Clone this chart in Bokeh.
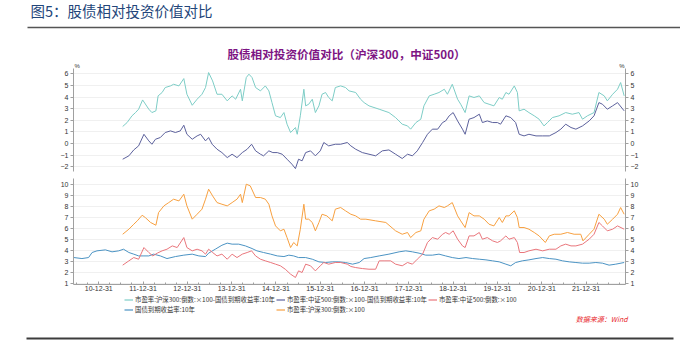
import math
from bokeh.plotting import figure
from bokeh.models import Range1d, LinearAxis, FixedTicker, Legend, LegendItem
from bokeh.layouts import column
from bokeh.embed import file_html
from bokeh.resources import INLINE
from bokeh.core.properties import value

CJK = "Noto Sans CJK SC"
NUM = "Liberation Sans"

# ---------------- data (time in decimal years, values in %) ----------------
hs300_spread = [(2011.54,1.47),(2011.64,1.81),(2011.75,2.39),(2011.83,2.67),(2011.90,2.96),(2011.99,3.76),(2012.13,2.96),(2012.20,2.67),(2012.29,2.82),(2012.34,4.11),(2012.43,4.40),(2012.50,4.83),(2012.62,4.97),(2012.69,5.11),(2012.81,4.97),(2012.92,5.60),(2012.99,4.25),(2013.11,3.30),(2013.22,3.82),(2013.33,4.25),(2013.41,4.83),(2013.48,6.12),(2013.57,5.40),(2013.67,4.25),(2013.78,4.25),(2013.90,3.68),(2014.01,4.11),(2014.09,3.82),(2014.20,4.68),(2014.24,3.68),(2014.33,5.69),(2014.39,5.98),(2014.46,5.69),(2014.54,4.83),(2014.65,4.54),(2014.76,4.97),(2014.84,4.54),(2014.91,3.53),(2014.99,2.39),(2015.10,2.24),(2015.18,2.67),(2015.25,1.67),(2015.33,0.95),(2015.44,1.38),(2015.48,0.80),(2015.55,2.39),(2015.63,4.68),(2015.67,3.25),(2015.74,3.39),(2015.82,3.82),(2015.89,2.67),(2015.97,3.25),(2016.04,4.25),(2016.12,4.40),(2016.19,3.97),(2016.27,3.68),(2016.34,4.83),(2016.46,4.97),(2016.57,4.83),(2016.65,4.54),(2016.80,4.40),(2016.91,3.82),(2016.99,3.53),(2017.10,3.25),(2017.33,2.96),(2017.55,2.67),(2017.70,2.24),(2017.85,1.67),(2017.97,1.52),(2018.04,1.24),(2018.16,1.81),(2018.27,2.10),(2018.34,3.25),(2018.46,4.11),(2018.57,4.25),(2018.68,4.40),(2018.80,4.68),(2018.87,4.25),(2018.98,5.11),(2019.10,3.82),(2019.17,3.39),(2019.27,2.67),(2019.36,4.11),(2019.47,3.97),(2019.59,4.11),(2019.70,3.53),(2019.81,3.39),(2019.92,3.25),(2020.04,3.97),(2020.11,3.82),(2020.19,4.40),(2020.26,4.25),(2020.38,4.97),(2020.45,4.40),(2020.49,2.82),(2020.60,2.96),(2020.71,2.67),(2020.83,2.39),(2020.94,2.10),(2021.05,1.52),(2021.13,1.81),(2021.24,2.24),(2021.39,2.39),(2021.54,2.67),(2021.69,2.53),(2021.84,2.67),(2021.92,2.10),(2022.03,2.39),(2022.18,2.67),(2022.29,4.40),(2022.41,4.11),(2022.48,3.68),(2022.60,4.25),(2022.71,4.68),(2022.78,5.26),(2022.86,4.11)]

zz500_spread = [(2011.54,-1.35),(2011.68,-1.06),(2011.79,-0.55),(2011.90,-0.20),(2012.02,0.80),(2012.13,0.23),(2012.20,-0.06),(2012.28,0.37),(2012.39,0.52),(2012.50,0.95),(2012.62,1.09),(2012.73,0.95),(2012.84,1.09),(2012.92,1.58),(2012.99,0.80),(2013.11,0.37),(2013.22,0.66),(2013.30,0.80),(2013.41,0.23),(2013.48,0.52),(2013.56,-0.06),(2013.67,-0.49),(2013.78,-0.78),(2013.90,-1.21),(2014.01,-0.92),(2014.12,-1.21),(2014.24,-0.78),(2014.35,-0.49),(2014.45,-0.06),(2014.54,-0.63),(2014.65,-0.92),(2014.72,-1.06),(2014.84,-0.63),(2014.93,-0.78),(2015.03,-0.78),(2015.14,-0.92),(2015.25,-1.35),(2015.36,-1.78),(2015.44,-2.16),(2015.51,-1.35),(2015.59,-1.49),(2015.67,-0.78),(2015.78,-0.63),(2015.89,-1.06),(2016.00,-0.63),(2016.08,0.09),(2016.19,-0.20),(2016.34,-0.06),(2016.46,-0.06),(2016.61,0.09),(2016.69,-0.20),(2016.80,-0.49),(2016.95,-0.78),(2017.10,-0.92),(2017.25,-1.06),(2017.40,-0.63),(2017.55,-0.55),(2017.70,-0.92),(2017.85,-1.29),(2017.97,-0.92),(2018.08,-1.06),(2018.19,-0.63),(2018.31,0.09),(2018.42,0.80),(2018.53,1.24),(2018.65,1.24),(2018.76,1.81),(2018.83,1.95),(2018.91,2.39),(2019.00,2.67),(2019.10,1.95),(2019.21,1.24),(2019.27,0.80),(2019.36,2.10),(2019.47,2.24),(2019.59,2.53),(2019.66,1.81),(2019.77,1.95),(2019.89,1.81),(2020.00,1.81),(2020.07,1.67),(2020.19,2.39),(2020.30,2.24),(2020.41,1.81),(2020.49,0.80),(2020.60,0.66),(2020.71,0.80),(2020.87,0.66),(2021.02,0.66),(2021.17,0.66),(2021.32,0.95),(2021.43,1.24),(2021.54,1.67),(2021.66,1.38),(2021.77,1.24),(2021.92,1.52),(2022.07,1.95),(2022.18,2.39),(2022.29,3.53),(2022.37,3.39),(2022.48,2.96),(2022.60,3.25),(2022.71,3.53),(2022.86,2.82)]

hs300_ey = [(2011.54,5.45),(2011.68,5.91),(2011.79,6.36),(2011.87,6.67),(2011.98,7.18),(2012.05,6.97),(2012.17,6.52),(2012.29,6.27),(2012.35,7.42),(2012.47,8.03),(2012.58,8.33),(2012.69,8.64),(2012.81,8.48),(2012.92,9.09),(2012.99,8.03),(2013.11,6.82),(2013.22,7.27),(2013.33,7.73),(2013.41,8.64),(2013.48,9.55),(2013.57,8.94),(2013.67,8.33),(2013.78,8.18),(2013.90,8.03),(2014.01,8.33),(2014.12,8.64),(2014.20,9.09),(2014.24,8.33),(2014.33,10.00),(2014.42,9.85),(2014.54,8.79),(2014.65,8.79),(2014.76,8.64),(2014.84,8.18),(2014.91,7.12),(2014.99,6.21),(2015.10,5.76),(2015.18,5.91),(2015.25,5.15),(2015.33,4.24),(2015.40,4.70),(2015.48,4.39),(2015.55,5.91),(2015.63,8.18),(2015.67,6.82),(2015.74,6.82),(2015.82,6.52),(2015.89,5.76),(2015.97,6.52),(2016.04,7.27),(2016.15,7.12),(2016.27,6.67),(2016.34,7.73),(2016.46,7.88),(2016.57,7.58),(2016.69,7.27),(2016.80,7.12),(2016.91,6.82),(2017.03,6.82),(2017.25,6.67),(2017.48,6.52),(2017.70,5.76),(2017.85,5.45),(2017.97,5.61),(2018.04,5.15),(2018.16,5.61),(2018.27,5.76),(2018.34,6.82),(2018.46,7.58),(2018.57,7.73),(2018.68,8.03),(2018.80,7.88),(2018.87,8.03),(2018.98,8.33),(2019.10,7.12),(2019.17,6.67),(2019.27,6.06),(2019.36,7.42),(2019.47,7.12),(2019.59,7.12),(2019.70,6.82),(2019.81,6.36),(2019.92,6.21),(2020.04,6.97),(2020.11,6.52),(2020.19,7.12),(2020.26,7.12),(2020.38,7.58),(2020.45,6.97),(2020.49,6.06),(2020.60,6.06),(2020.71,5.91),(2020.83,5.61),(2020.94,5.30),(2021.08,4.70),(2021.17,5.30),(2021.28,5.45),(2021.43,5.45),(2021.58,5.61),(2021.73,5.45),(2021.88,5.45),(2021.93,4.85),(2022.07,5.45),(2022.18,5.91),(2022.29,7.27),(2022.41,6.82),(2022.48,6.36),(2022.60,6.82),(2022.71,7.27),(2022.78,7.88),(2022.86,7.27)]

zz500_ey = [(2011.54,2.64),(2011.68,3.03),(2011.79,3.33),(2011.90,3.18),(2012.02,4.24),(2012.13,3.79),(2012.22,3.48),(2012.32,3.73),(2012.43,3.94),(2012.54,4.09),(2012.66,4.39),(2012.77,4.24),(2012.92,5.15),(2012.99,4.24),(2013.11,3.94),(2013.22,4.09),(2013.33,3.94),(2013.41,3.64),(2013.48,4.09),(2013.57,3.79),(2013.67,3.48),(2013.78,3.64),(2013.90,3.18),(2014.01,3.64),(2014.12,3.33),(2014.24,3.64),(2014.35,3.79),(2014.45,3.94),(2014.54,3.48),(2014.65,3.18),(2014.76,3.03),(2014.88,2.88),(2014.99,2.73),(2015.10,2.58),(2015.21,2.27),(2015.33,1.82),(2015.44,1.52),(2015.51,2.12),(2015.59,1.97),(2015.67,2.73),(2015.78,2.58),(2015.89,2.12),(2016.00,2.58),(2016.08,2.88),(2016.19,2.73),(2016.34,2.88),(2016.46,2.88),(2016.61,2.73),(2016.69,2.52),(2016.80,2.42),(2016.95,2.33),(2017.10,2.27),(2017.25,2.27),(2017.33,3.03),(2017.44,3.03),(2017.59,3.03),(2017.70,2.73),(2017.85,2.58),(2017.97,2.88),(2018.08,2.73),(2018.19,3.18),(2018.31,3.64),(2018.42,4.70),(2018.53,5.15),(2018.65,5.00),(2018.76,5.45),(2018.83,5.61),(2018.91,5.45),(2019.00,5.76),(2019.10,5.00),(2019.21,4.39),(2019.27,4.24),(2019.36,5.30),(2019.47,5.30),(2019.59,5.61),(2019.66,5.00),(2019.77,5.15),(2019.89,4.85),(2020.00,4.70),(2020.07,4.85),(2020.19,5.30),(2020.26,5.00),(2020.38,5.15),(2020.45,4.70),(2020.50,3.79),(2020.60,3.79),(2020.71,3.94),(2020.87,4.09),(2021.02,3.94),(2021.17,4.09),(2021.32,4.09),(2021.43,4.39),(2021.54,4.55),(2021.66,4.39),(2021.77,4.39),(2021.92,4.55),(2022.07,5.00),(2022.18,5.45),(2022.29,6.52),(2022.37,6.21),(2022.48,5.76),(2022.60,5.91),(2022.71,6.21),(2022.86,5.91)]

bond_10y = [(2010.44,3.33),(2010.62,3.24),(2010.77,3.33),(2010.85,3.79),(2010.96,3.94),(2011.15,4.03),(2011.30,3.85),(2011.45,3.94),(2011.56,4.09),(2011.68,3.79),(2011.79,3.64),(2011.90,3.48),(2012.02,3.48),(2012.13,3.48),(2012.24,3.64),(2012.39,3.48),(2012.54,3.24),(2012.73,3.42),(2012.92,3.55),(2013.11,3.64),(2013.26,3.48),(2013.41,3.42),(2013.48,3.73),(2013.63,4.09),(2013.78,4.45),(2013.90,4.64),(2014.01,4.55),(2014.16,4.55),(2014.31,4.39),(2014.46,4.15),(2014.57,3.94),(2014.72,3.79),(2014.88,3.64),(2015.03,3.48),(2015.18,3.42),(2015.29,3.55),(2015.40,3.48),(2015.51,3.33),(2015.67,3.33),(2015.82,3.18),(2015.97,2.94),(2016.12,2.88),(2016.27,2.94),(2016.42,2.94),(2016.57,2.88),(2016.73,2.73),(2016.88,2.88),(2016.99,3.24),(2017.14,3.33),(2017.33,3.48),(2017.55,3.64),(2017.78,3.85),(2017.93,3.94),(2018.08,3.85),(2018.23,3.73),(2018.38,3.55),(2018.53,3.55),(2018.68,3.64),(2018.83,3.48),(2018.98,3.33),(2019.13,3.24),(2019.29,3.33),(2019.44,3.24),(2019.59,3.18),(2019.74,3.12),(2019.89,3.03),(2020.04,2.94),(2020.19,2.73),(2020.30,2.58),(2020.41,2.88),(2020.56,3.03),(2020.71,3.12),(2020.87,3.24),(2021.02,3.33),(2021.17,3.24),(2021.32,3.18),(2021.47,3.03),(2021.62,2.94),(2021.77,2.88),(2021.92,2.82),(2022.07,2.82),(2022.22,2.88),(2022.37,2.82),(2022.52,2.64),(2022.67,2.73),(2022.86,2.88)]

year_ticks = [2011, 2012, 2013, 2014, 2015, 2016, 2017, 2018, 2019, 2020, 2021, 2022]
year_labels = ["10-12-31", "11-12-31", "12-12-31", "13-12-31", "14-12-31", "15-12-31",
               "16-12-31", "17-12-31", "18-12-31", "19-12-31", "20-12-31", "21-12-31"]
top_ticks = [-2, -1, 0, 1, 2, 3, 4, 5, 6]
bottom_ticks = [1, 2, 3, 4, 5, 6, 7, 8, 9, 10]

legend_labels = [
    "市盈率:沪深300:倒数:×100-国债到期收益率:10年",
    "市盈率:中证500:倒数:×100-国债到期收益率:10年",
    "市盈率:中证500:倒数:×100",
    "国债到期收益率:10年",
    "市盈率:沪深300:倒数:×100",
]

header_text = "图5：股债相对投资价值对比"
chart_title = "股债相对投资价值对比（沪深300，中证500）"
source_text = "数据来源：Wind"
footer_text = "数据来源：Wind，信达证券"

C_TEAL = "#7dcdc6"
C_PURPLE = "#5c619c"
C_RED = "#e9767c"
C_BLUE = "#4b93c3"
C_ORANGE = "#f7a040"
SERIES_COLORS = [C_TEAL, C_PURPLE, C_RED, C_BLUE, C_ORANGE]


def unzip(pairs):
    return [a for a, _ in pairs], [b for _, b in pairs]


X_RANGE = Range1d(2010.43, 2022.89)


def blank(h, y0, y1):
    f = figure(width=680, height=h, x_range=Range1d(0, 680), y_range=Range1d(y1, y0),
               output_backend="svg", toolbar_location=None, min_border=0,
               x_axis_location=None, y_axis_location=None)
    f.grid.visible = False
    f.outline_line_color = None
    f.frame_align = False
    return f


def style_y(ax, ticks):
    ax.ticker = FixedTicker(ticks=ticks)
    ax.major_label_text_font = NUM
    ax.major_label_text_font_size = "7px"
    ax.major_label_text_color = "#333333"
    ax.axis_line_color = "#a0a0a0"
    ax.major_tick_line_color = "#a0a0a0"
    ax.major_tick_out = 3
    ax.major_tick_in = 0
    ax.minor_tick_line_color = None
    ax.major_label_standoff = 2


# ---------------- header ----------------
header = blank(68, 0, 68)
header.text(x=[30], y=[10], text=[header_text], text_font=value(CJK), text_font_size="14.5px",
            text_color="#23467a", text_baseline="middle", text_align="left")
header.segment(x0=[27], y0=[27], x1=[680], y1=[27], line_color="#555555", line_width=1.5)
header.text(x=[346], y=[53], text=[chart_title], text_font=value(CJK), text_font_size="11.6px",
            text_font_style="bold", text_color="#7d1483", text_baseline="middle", text_align="center")
header.text(x=[74, 624], y=[65, 65], text=["%", "%"], text_font=value(NUM), text_font_size="6px",
            text_color="#333333", text_baseline="middle", text_align=["left", "right"])

# ---------------- top panel ----------------
p_top = figure(width=680, height=110, x_range=X_RANGE, y_range=Range1d(-2.41, 6.47),
               output_backend="svg", toolbar_location=None, x_axis_location=None,
               min_border_left=73, min_border_right=55, min_border_top=0, min_border_bottom=7)
p_top.outline_line_color = None
p_top.xgrid.grid_line_color = None
p_top.ygrid.grid_line_color = "#f0f0f0"
p_top.add_layout(LinearAxis(), "right")
for ax in p_top.yaxis:
    style_y(ax, top_ticks)

tx, tv = unzip(hs300_spread)
p_top.line(tx, tv, line_color=C_TEAL, line_width=1)
px, pv = unzip(zz500_spread)
p_top.line(px, pv, line_color=C_PURPLE, line_width=1)

# ---------------- bottom panel ----------------
p_bot = figure(width=680, height=115, x_range=X_RANGE, y_range=Range1d(0.88, 10.52),
               output_backend="svg", toolbar_location=None,
               min_border_left=73, min_border_right=55, min_border_top=0, min_border_bottom=9)
p_bot.outline_line_color = None
p_bot.xgrid.grid_line_color = None
p_bot.ygrid.grid_line_color = "#f0f0f0"
p_bot.add_layout(LinearAxis(), "right")
for ax in p_bot.yaxis:
    style_y(ax, bottom_ticks)

xa = p_bot.xaxis[0]
xa.ticker = FixedTicker(ticks=year_ticks,
                        minor_ticks=[y + q / 4 for y in range(2010, 2023) for q in range(4)])
xa.major_label_overrides = dict(zip(year_ticks, year_labels))
xa.major_label_text_font = NUM
xa.major_label_text_font_size = "7px"
xa.major_label_text_color = "#333333"
xa.axis_line_color = "#a0a0a0"
xa.major_tick_line_color = "#a0a0a0"
xa.minor_tick_line_color = "#a0a0a0"
xa.major_tick_in = 3
xa.major_tick_out = 0
xa.minor_tick_in = 2
xa.minor_tick_out = 0
xa.major_label_standoff = 1

bx, bv = unzip(bond_10y)
p_bot.line(bx, bv, line_color=C_BLUE, line_width=1)
rx, rv = unzip(zz500_ey)
p_bot.line(rx, rv, line_color=C_RED, line_width=1)
ox, ov = unzip(hs300_ey)
p_bot.line(ox, ov, line_color=C_ORANGE, line_width=1)

# ---------------- footer: legend, source, rule ----------------
footer = blank(64, 293, 357)
proxies = [footer.line(x=[math.nan], y=[math.nan], line_color=c, line_width=1.2) for c in SERIES_COLORS]
legend = Legend(items=[LegendItem(label=lab, renderers=[r]) for lab, r in zip(legend_labels, proxies)],
                orientation="horizontal", ncols=3, location=(124, 43),
                label_text_font=CJK, label_text_font_size="6.4px", label_text_color="#333333",
                glyph_width=9, glyph_height=9, label_height=9, label_standoff=2, spacing=1,
                padding=0, margin=0, border_line_color=None, background_fill_alpha=0)
footer.add_layout(legend, "center")

footer.text(x=[627], y=[318], text=[source_text], text_font=value(CJK), text_font_size="7px",
            text_font_style="italic", text_color="#e8262b", text_baseline="middle", text_align="right")
footer.segment(x0=[26], y0=[338], x1=[673], y1=[338], line_color="#3c3c3c", line_width=2)
footer.text(x=[30], y=[354], text=[footer_text], text_font=value(CJK), text_font_size="10px",
            text_color="#2c3e5c", text_baseline="top", text_align="left")

layout = column(header, p_top, p_bot, footer, spacing=0)
open("out.html", "w").write(file_html(layout, INLINE))
